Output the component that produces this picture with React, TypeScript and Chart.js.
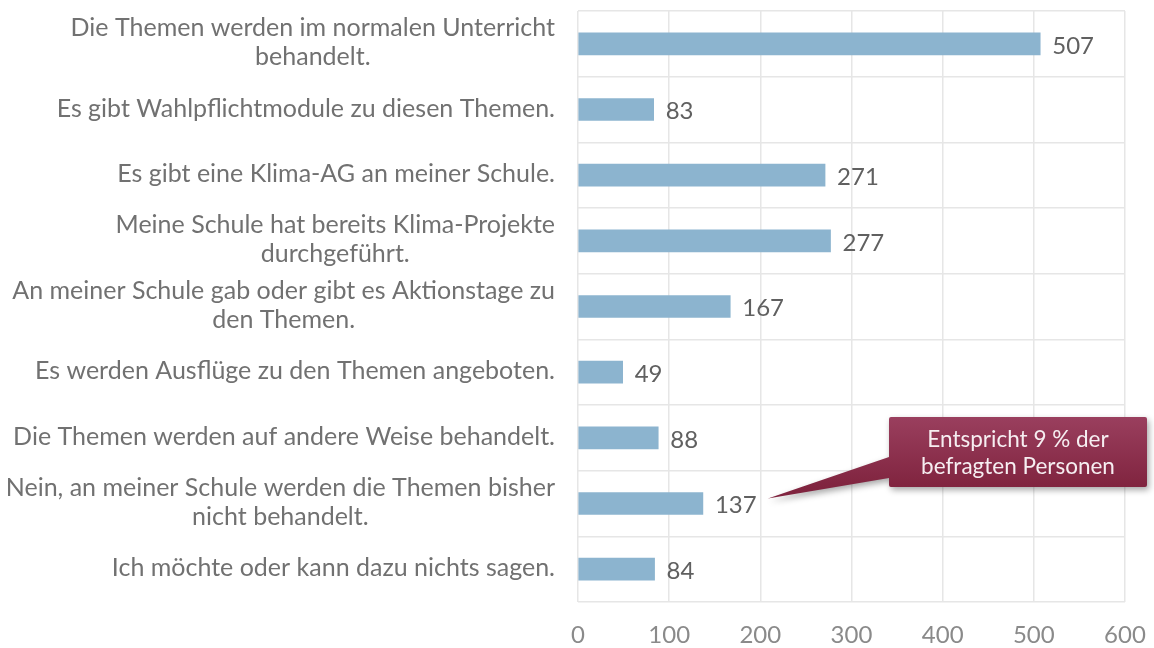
import React, { useEffect, useRef } from "react";
import { Chart, registerables } from "chart.js";

Chart.register(...registerables);

const categories: string[][] = [
  ["Die Themen werden im normalen Unterricht", "behandelt."],
  ["Es gibt Wahlpflichtmodule zu diesen Themen."],
  ["Es gibt eine Klima-AG an meiner Schule."],
  ["Meine Schule hat bereits Klima-Projekte", "durchgeführt."],
  ["An meiner Schule gab oder gibt es Aktionstage zu", "den Themen."],
  ["Es werden Ausflüge zu den Themen angeboten."],
  ["Die Themen werden auf andere Weise behandelt."],
  ["Nein, an meiner Schule werden die Themen bisher", "nicht behandelt."],
  ["Ich möchte oder kann dazu nichts sagen."],
];
const values: number[] = [507, 83, 271, 277, 167, 49, 88, 137, 84];
const xTicks: number[] = [0, 100, 200, 300, 400, 500, 600];
const calloutLines: string[] = ["Entspricht 9 % der", "befragten Personen"];
const calloutIndex = 7;

const FONT = "Lato, 'Noto Sans', sans-serif";

const labelPlugin = {
  id: "customLabels",
  afterDraw(chart: any) {
    const ctx = chart.ctx;
    const y = chart.scales.y;
    const x = chart.scales.x;
    ctx.save();
    // category labels
    ctx.font = `25px ${FONT}`;
    ctx.fillStyle = "#717171";
    ctx.textBaseline = "middle";
    ctx.textAlign = "center";
    const lh = 29;
    categories.forEach((lines, i) => {
      const cy = y.getPixelForValue(i);
      const w = Math.max(...lines.map((l) => ctx.measureText(l).width));
      const cx = 555 - w / 2;
      const top = cy - ((lines.length - 1) * lh) / 2;
      lines.forEach((l, j) => ctx.fillText(l, cx, top + j * lh - 1));
    });
    // x tick labels
    ctx.fillStyle = "#8a8a8a";
    ctx.font = `24px ${FONT}`;
    xTicks.forEach((t) => {
      ctx.fillText(String(t), x.getPixelForValue(t), 635);
    });
    // value labels
    ctx.textAlign = "left";
    ctx.fillStyle = "#606060";
    values.forEach((v, i) => {
      const cy = y.getPixelForValue(i);
      ctx.fillText(String(v), x.getPixelForValue(v) + 12, cy + 2);
    });
    // callout
    const by = y.getPixelForValue(calloutIndex);
    const tipX = x.getPixelForValue(values[calloutIndex]) + 65;
    const tipY = by - 5;
    const bx = 889, bt = 417, bw = 258, bh = 70;
    ctx.shadowColor = "rgba(0,0,0,0.35)";
    ctx.shadowBlur = 6;
    ctx.shadowOffsetX = 2;
    ctx.shadowOffsetY = 3;
    const grad = ctx.createLinearGradient(0, bt, 0, bt + bh);
    grad.addColorStop(0, "#9a3f5e");
    grad.addColorStop(1, "#80243f");
    ctx.fillStyle = grad;
    ctx.beginPath();
    ctx.moveTo(bx + 2, bt);
    ctx.lineTo(bx + bw - 2, bt);
    ctx.quadraticCurveTo(bx + bw, bt, bx + bw, bt + 2);
    ctx.lineTo(bx + bw, bt + bh - 2);
    ctx.quadraticCurveTo(bx + bw, bt + bh, bx + bw - 2, bt + bh);
    ctx.lineTo(bx + 2, bt + bh);
    ctx.quadraticCurveTo(bx, bt + bh, bx, bt + bh - 2);
    ctx.lineTo(bx, bt + 61);
    ctx.lineTo(tipX, tipY);
    ctx.lineTo(bx, bt + 40);
    ctx.lineTo(bx, bt + 2);
    ctx.quadraticCurveTo(bx, bt, bx + 2, bt);
    ctx.closePath();
    ctx.fill();
    ctx.shadowColor = "transparent";
    ctx.fillStyle = "#f6eef1";
    ctx.font = `22.5px ${FONT}`;
    ctx.textAlign = "center";
    ctx.fillText(calloutLines[0], bx + bw / 2, bt + 23);
    ctx.fillText(calloutLines[1], bx + bw / 2, bt + 50);
    ctx.restore();
  },
};

export default function App() {
  const ref = useRef<HTMLCanvasElement | null>(null);
  useEffect(() => {
    document.body.style.margin = "0";
    const chart = new Chart(ref.current!, {
      type: "bar",
      data: {
        labels: categories.map((c) => c.join(" ")),
        datasets: [
          {
            data: values,
            backgroundColor: "#8cb4cf",
            barThickness: 22,
          },
        ],
      },
      options: {
        indexAxis: "y",
        animation: false,
        responsive: false,
        maintainAspectRatio: false,
        layout: { padding: { top: 11, right: 29, left: 0, bottom: 0 } },
        plugins: { legend: { display: false }, tooltip: { enabled: false } },
        scales: {
          x: {
            min: 0,
            max: 600,
            afterBuildTicks: (s: any) => {
              s.ticks = xTicks.map((v) => ({ value: v }));
            },
            ticks: { display: false },
            grid: { color: "#e6e6e6", drawTicks: false, lineWidth: 1.5 },
            border: { display: false },
            afterFit: (s: any) => {
              s.height = 46;
            },
          },
          y: {
            ticks: { display: false },
            grid: { color: "#e6e6e6", drawTicks: false, lineWidth: 1.5, offset: true },
            border: { display: false },
            afterFit: (s: any) => {
              s.width = 578;
            },
          },
        },
      },
      plugins: [labelPlugin],
    });
    return () => chart.destroy();
  }, []);
  return (
    <div style={{ position: "absolute", left: 0, top: 0, width: 1154, height: 648 }}>
      <canvas ref={ref} width={1154} height={648} />
    </div>
  );
}
